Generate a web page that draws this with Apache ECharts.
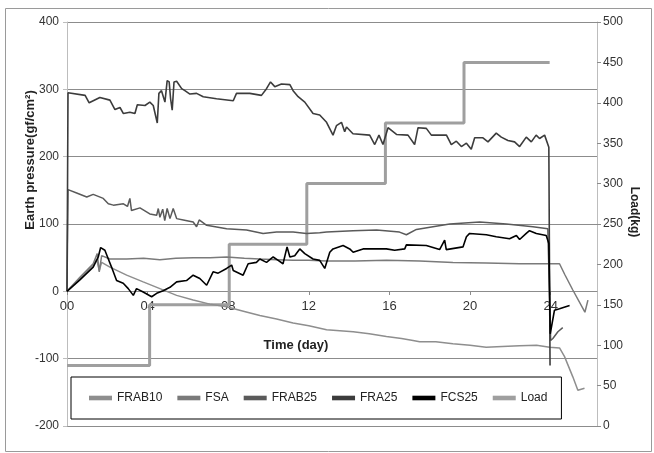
<!DOCTYPE html>
<html><head><meta charset="utf-8">
<script src="https://cdn.jsdelivr.net/npm/echarts@6/dist/echarts.min.js"></script>
<style>html,body{margin:0;padding:0;background:#fff}#c{width:654px;height:453px}</style>
</head><body><div id="c"></div>
<script>
// x = time (day), y = value
const xTicks = ['00','04','08','12','16','20','24'];
const seriesNames = ['FRAB10','FSA','FRAB25','FRA25','FCS25','Load'];

const frab10 = [[0,0],[0.64,19],[1.3,39],[1.47,48],[1.6,31],[1.72,43],[2.13,36],[2.96,24],[3.78,14],[4.61,4],[5.44,-6],[6.26,-13],[7.09,-19],[7.92,-23],[8.8,-30],[9.57,-36],[10.4,-41],[11.22,-47],[12.0,-51],[12.88,-57],[14.2,-60],[15.0,-63],[15.85,-67],[16.6,-70],[17.17,-73],[17.5,-75],[18.3,-75],[19.15,-78],[20.0,-80],[20.8,-83],[21.6,-82],[22.46,-81],[23.3,-80],[23.95,-83],[24.44,-84],[24.69,-97],[25.1,-127],[25.35,-147],[25.68,-144]];

const fsa = [[0,0],[0.64,21],[1.3,41],[1.5,56],[1.6,29],[1.72,53],[2.13,48],[2.96,48],[3.8,49],[4.61,47],[5.4,49],[6.26,50],[7.1,50],[7.92,51],[8.8,49],[9.57,48],[10.4,47],[11.22,46],[12.0,46],[12.88,45],[14.3,45],[15.85,46],[17.5,45],[19.15,43],[20.8,42],[22.46,41],[24.44,41],[24.7,25],[25.1,2],[25.7,-31],[25.85,-13]];

const frab25 = [[0,0],[0.05,151],[0.48,146],[0.98,140],[1.3,144],[1.8,138],[2.05,130],[2.3,128],[2.8,130],[3.0,126],[3.12,138],[3.2,120],[3.62,124],[4.11,115],[4.45,113],[4.53,123],[4.61,110],[4.75,122],[4.85,105],[4.97,123],[5.11,108],[5.27,123],[5.44,108],[5.77,106],[6.26,103],[6.43,96],[6.56,106],[6.93,98],[7.92,93],[8.91,91],[9.73,86],[10.4,88],[11.22,88],[11.88,86],[12.54,87],[12.88,88],[14.2,90],[15.36,91],[16.5,88],[16.84,84],[17.34,92],[18.16,96],[18.99,100],[20.48,103],[21.8,100],[23.12,96],[23.86,93],[24.0,-73],[24.11,-70],[24.36,-60],[24.6,-54]];

const fra25 = [[0,0],[0.05,295],[0.9,291],[1.1,280],[1.63,288],[2.13,284],[2.38,270],[2.63,273],[2.8,264],[3.12,266],[3.37,264],[3.49,277],[3.87,276],[4.11,281],[4.28,276],[4.48,250],[4.56,294],[4.69,298],[4.86,281],[4.97,313],[5.07,311],[5.14,286],[5.22,269],[5.31,311],[5.44,312],[5.69,301],[5.85,298],[6.1,293],[6.43,294],[6.76,289],[7.42,286],[8.25,283],[8.41,294],[9.07,294],[9.65,291],[9.9,301],[10.1,311],[10.31,304],[10.64,308],[11.06,307],[11.22,298],[11.47,289],[11.8,281],[12.21,264],[12.54,262],[12.88,251],[13.2,232],[13.37,246],[13.62,251],[13.78,237],[13.87,244],[14.19,234],[15.02,232],[15.27,218],[15.48,232],[15.68,218],[15.93,243],[16.35,233],[16.92,232],[17.25,218],[17.42,243],[17.83,242],[18.08,232],[18.83,232],[19.07,218],[19.32,223],[19.57,215],[19.82,220],[20.06,211],[20.23,228],[20.64,228],[20.89,222],[21.3,235],[21.55,229],[21.88,224],[22.21,222],[22.46,215],[22.79,229],[23.04,222],[23.28,232],[23.45,227],[23.7,232],[23.91,214],[23.97,-110]];

const fcs25 = [[0,0],[0.64,17],[1.3,36],[1.55,51],[1.67,65],[1.88,61],[2.05,48],[2.21,36],[2.46,16],[2.79,12],[3.04,4],[3.29,-6],[3.45,4],[3.78,-1],[4.2,-8],[4.45,-3],[4.77,1],[5.11,6],[5.44,14],[5.93,16],[6.26,24],[6.59,19],[6.93,9],[7.25,29],[7.5,27],[7.92,34],[8.17,39],[8.25,31],[8.74,24],[8.99,41],[9.4,43],[9.57,48],[9.9,43],[10.23,51],[10.48,46],[10.72,41],[10.92,66],[11.06,51],[11.3,53],[11.55,63],[11.8,56],[12.21,48],[12.54,46],[12.79,34],[13.04,58],[13.2,63],[13.7,68],[14.03,63],[14.2,58],[14.69,63],[15.85,63],[16.26,61],[16.76,63],[16.84,69],[17.83,68],[18.49,62],[18.74,76],[18.82,62],[19.65,66],[19.82,81],[19.98,86],[20.81,84],[21.3,81],[21.96,78],[22.3,83],[22.46,77],[22.79,86],[22.95,90],[23.29,86],[23.78,83],[23.91,71],[23.98,-63],[24.19,-28],[24.44,-26],[24.94,-21]];

const load = [[0,75],[4.1,75],[4.1,150],[8.05,150],[8.05,225],[11.9,225],[11.9,300],[15.8,300],[15.8,375],[19.7,375],[19.7,450],[23.95,450]];

const colors = ['#8e8e8e','#7a7a7a','#5a5a5a','#3c3c3c','#000000','#9f9f9f'];
const dataSets = [frab10, fsa, frab25, fra25, fcs25, load];
const widths = [1.5,1.5,1.5,1.6,1.6,3];

const chart = echarts.init(document.getElementById('c'), null, {renderer:'canvas'});
const font = 'Liberation Sans';
chart.setOption({
  animation:false,
  backgroundColor:'#fff',
  grid:{left:67,right:57,top:22,bottom:27,containLabel:false},
  xAxis:{type:'value',min:0,max:26.3,interval:4,position:'bottom',offset:-135,
    axisLine:{onZero:false,lineStyle:{color:'#8c8c8c',width:1}},
    axisTick:{show:true,length:4,inside:false,lineStyle:{color:'#8c8c8c'}},
    axisLabel:{showMaxLabel:false,margin:9,color:'#333',fontFamily:font,fontSize:13,
      formatter:function(v){const i=Math.round(v/4);return (Math.abs(v-i*4)<1e-6 && i<xTicks.length)?xTicks[i]:'';}},
    splitLine:{show:false}},
  yAxis:[
    {type:'value',min:-200,max:400,interval:100,position:'left',
     axisLine:{show:true,onZero:false,lineStyle:{color:'#bdbdbd'}},
     axisTick:{show:true,length:4,lineStyle:{color:'#bdbdbd'}},
     axisLabel:{margin:8,color:'#333',fontFamily:font,fontSize:12},
     splitLine:{show:true,lineStyle:{color:'#8c8c8c',width:1}}},
    {type:'value',min:0,max:500,interval:50,position:'right',
     axisLine:{show:true,onZero:false,lineStyle:{color:'#bdbdbd'}},
     axisTick:{show:true,length:4,lineStyle:{color:'#8c8c8c'}},
     axisLabel:{margin:6,color:'#333',fontFamily:font,fontSize:12},
     splitLine:{show:false}}
  ],
  legend:{left:71,top:377,orient:'horizontal',itemWidth:23,itemHeight:10,itemGap:15,
    padding:[15,14,15,18],borderColor:'#000',borderWidth:1,backgroundColor:'#fff',
    textStyle:{fontFamily:font,fontSize:12,color:'#222'},
    data:seriesNames.map(n=>({name:n,icon:'path://M0,0 L1,0 L1,0.2 L0,0.2 Z'}))},
  graphic:[
    {type:'rect',shape:{x:5.5,y:8.5,width:646,height:443},style:{fill:'none',stroke:'#9a9a9a',lineWidth:1},silent:true,z:-10},
    {type:'text',x:30,y:160,rotation:Math.PI/2,style:{text:'Earth pressure(gf/cm²)',font:'bold 13px "Liberation Sans"',fill:'#222',align:'center',verticalAlign:'middle'}},
    {type:'text',x:634,y:212,rotation:-Math.PI/2,style:{text:'Load(kg)',font:'bold 12px "Liberation Sans"',fill:'#222',align:'center',verticalAlign:'middle'}},
    {type:'text',x:296,y:345,style:{text:'Time (day)',font:'bold 13px "Liberation Sans"',fill:'#222',align:'center',verticalAlign:'middle'}}
  ],
  series: seriesNames.map((n,i)=>({
    name:n,type:'line',data:dataSets[i],yAxisIndex:(n==='Load')?1:0,
    symbol:'none',showSymbol:false,smooth:false,
    lineStyle:{color:colors[i],width:widths[i]},itemStyle:{color:colors[i]},
    z: n==='Load'?2:(3+i)
  }))
});
</script></body></html>
